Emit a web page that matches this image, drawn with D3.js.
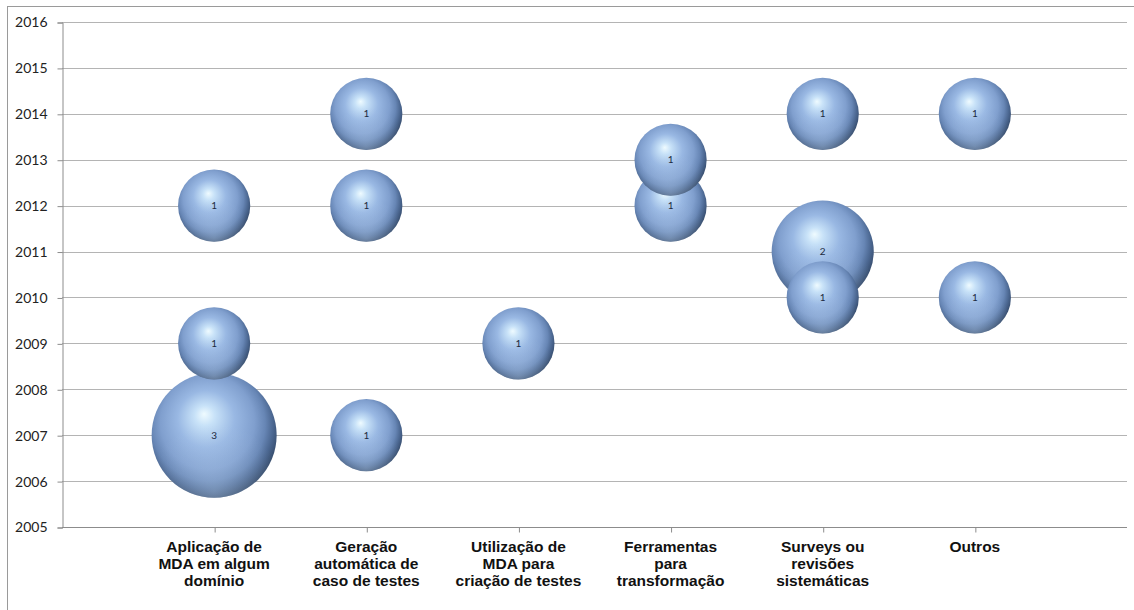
<!DOCTYPE html>
<html>
<head>
<meta charset="utf-8">
<script src="https://cdn.jsdelivr.net/npm/d3@7"></script>
<style>
  body { margin: 0; background: #fff; }
  svg { display: block; }
</style>
</head>
<body>
<div id="chart"></div>
<script>
'use strict';

// categories on the x axis (one per column of bubbles)
const categories = [
    'Aplicação de|MDA em algum|domínio',
    'Geração|automática de|caso de testes',
    'Utilização de|MDA para|criação de testes',
    'Ferramentas|para|transformação',
    'Surveys ou|revisões|sistemáticas',
    'Outros'
];

// one entry per bubble: category index, year, count
const bubbleCat   = [0, 0, 0, 1, 1, 1, 2, 3, 3, 4, 4, 4, 5, 5];
const bubbleYear  = [2012, 2009, 2007, 2014, 2012, 2007, 2009, 2012, 2013, 2014, 2011, 2010, 2014, 2010];
const bubbleCount = [1, 1, 3, 1, 1, 1, 1, 1, 1, 1, 2, 1, 1, 1];

const yearTicks = [2005, 2006, 2007, 2008, 2009, 2010, 2011, 2012, 2013, 2014, 2015, 2016];

const width = 1134;
const height = 610;
const plot = { left: 62, right: 1127, top: 22, bottom: 527 };

const svg = d3.select('#chart')
    .append('svg')
    .attr('width', width)
    .attr('height', height);

// chart area border
svg.append('rect')
    .attr('x', 7.5)
    .attr('y', 6.5)
    .attr('width', width + 10)
    .attr('height', height + 10)
    .attr('fill', 'none')
    .attr('stroke', '#9a9a9a');

const x = d3.scaleLinear()
    .domain([0, categories.length + 1])
    .range([plot.left, plot.right]);

const y = d3.scaleLinear()
    .domain([2005, 2016])
    .range([plot.bottom, plot.top]);

const r = d3.scaleSqrt()
    .domain([0, 3])
    .range([0, 62.5]);

const defs = svg.append('defs');

// off-centre gradient so the lower right rim comes out darker
const grad = defs.append('radialGradient')
    .attr('id', 'ball')
    .attr('cx', '46%')
    .attr('cy', '43%')
    .attr('r', '57%')
    .attr('fx', '42%')
    .attr('fy', '33%');

[
    [0, '#effbff'],
    [0.14, '#c8e2f8'],
    [0.4, '#99b8e3'],
    [0.66, '#809fce'],
    [0.8, '#6786b5'],
    [0.9, '#4c6892'],
    [1, '#354b6b']
].forEach(s => grad.append('stop').attr('offset', s[0]).attr('stop-color', s[1]));

// soft bottom reflection
const refl = defs.append('radialGradient')
    .attr('id', 'refl')
    .attr('cx', '50%')
    .attr('cy', '95%')
    .attr('r', '55%');
refl.append('stop').attr('offset', 0).attr('stop-color', '#b9d2f0').attr('stop-opacity', 0.4);
refl.append('stop').attr('offset', 1).attr('stop-color', '#b9d2f0').attr('stop-opacity', 0);

// horizontal gridlines
svg.append('g')
    .selectAll('line')
    .data(yearTicks)
    .enter()
    .append('line')
    .attr('x1', plot.left)
    .attr('x2', plot.right)
    .attr('y1', d => Math.round(y(d)) + 0.5)
    .attr('y2', d => Math.round(y(d)) + 0.5)
    .attr('stroke', d => d === 2005 ? '#8c8c8c' : '#b4b4b4');

// y axis
const yAxis = svg.append('g')
    .attr('transform', `translate(${plot.left + 0.5},0.5)`)
    .call(d3.axisLeft(y).tickValues(yearTicks).tickFormat(d3.format('d')).tickSize(5).tickPadding(10));

yAxis.select('.domain').attr('stroke', '#8c8c8c');
yAxis.selectAll('.tick line').attr('stroke', '#8c8c8c');
yAxis.selectAll('.tick text')
    .attr('fill', '#222')
    .style('font-family', 'Lato, "Open Sans", sans-serif')
    .style('font-size', '14px');

// x axis ticks (labels drawn below separately)
const xAxis = svg.append('g')
    .attr('transform', `translate(0.5,${plot.bottom + 0.5})`)
    .call(d3.axisBottom(x).tickValues(d3.range(1, categories.length + 1)).tickSize(5).tickFormat(''));

xAxis.select('.domain').remove();
xAxis.selectAll('.tick line').attr('stroke', '#8c8c8c');

// category labels
const catLabels = svg.append('g')
    .selectAll('text')
    .data(categories)
    .enter()
    .append('text')
    .attr('x', (d, i) => x(i + 1))
    .attr('y', 552)
    .attr('text-anchor', 'middle')
    .style('font-family', '"Liberation Sans", Arial, sans-serif')
    .style('font-weight', 'bold')
    .style('font-size', '15.5px')
    .attr('fill', '#111');

catLabels.selectAll('tspan')
    .data(d => d.split('|'))
    .enter()
    .append('tspan')
    .attr('x', function() { return d3.select(this.parentNode).attr('x'); })
    .attr('dy', (d, i) => i === 0 ? 0 : 17.2)
    .text(d => d);

// bubbles: larger drawn first, then by year
const bubbles = bubbleCat.map((c, i) => ({ cat: c, year: bubbleYear[i], count: bubbleCount[i] }))
    .sort((a, b) => (b.count - a.count) || (a.year - b.year));

const node = svg.append('g')
    .selectAll('g')
    .data(bubbles)
    .enter()
    .append('g')
    .attr('transform', d => `translate(${x(d.cat + 1)},${y(d.year)})`);

node.append('circle')
    .attr('r', d => r(d.count))
    .attr('fill', 'url(#ball)');

node.append('circle')
    .attr('r', d => r(d.count))
    .attr('fill', 'url(#refl)');

node.append('text')
    .attr('y', 3.5)
    .attr('text-anchor', 'middle')
    .style('font-family', 'Lato, "Open Sans", sans-serif')
    .style('font-size', '10px')
    .attr('fill', '#1c2a40')
    .text(d => d.count);
</script>
</body>
</html>
